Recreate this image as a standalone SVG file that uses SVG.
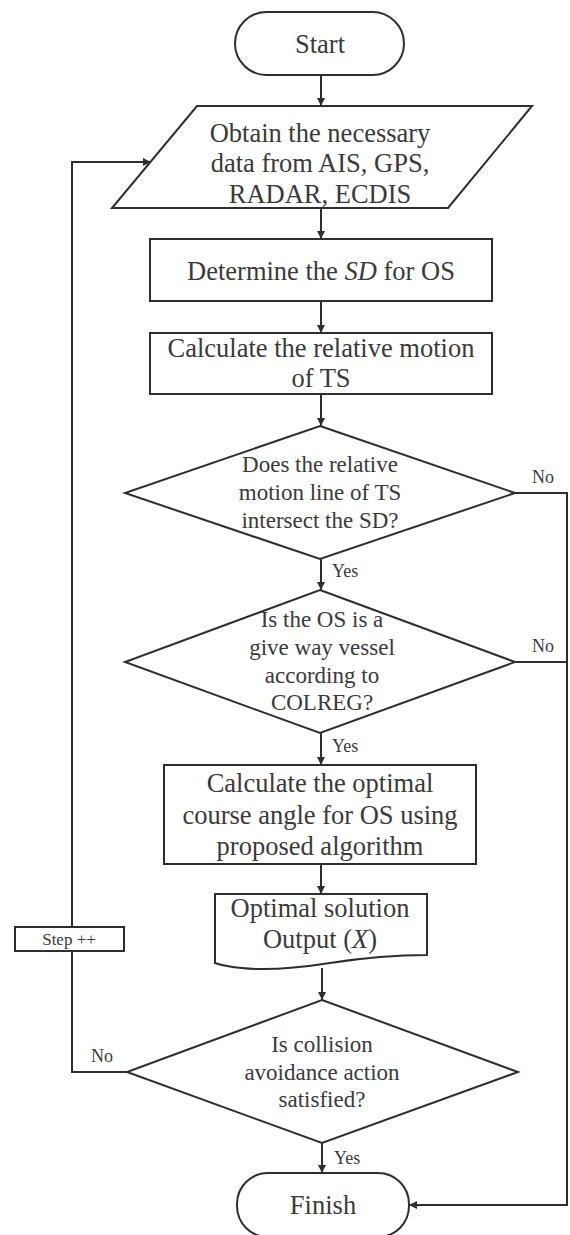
<svg xmlns="http://www.w3.org/2000/svg" width="570" height="1235" viewBox="0 0 570 1235">
<defs>
<marker id="arr" viewBox="0 0 10 10" refX="10" refY="5" markerWidth="8" markerHeight="8" markerUnits="userSpaceOnUse" orient="auto">
<path d="M0,0 L10,5 L0,10 Z" fill="#2e2e2e"/>
</marker>
<style>
.s{fill:#fff;stroke:#2e2e2e;stroke-width:2}
.c{fill:none;stroke:#2e2e2e;stroke-width:2}
.t{font-family:"Liberation Serif","Times New Roman",serif;fill:#3a3a3a;text-anchor:middle}
.big{font-size:26.5px}
.mid{font-size:23px}
.lab{font-size:18px;text-anchor:start}
.stp{font-size:17px}
</style>
</defs>
<rect width="570" height="1235" fill="#fff"/>
<g id="connectors">
<line class="c" x1="321" y1="75" x2="321" y2="106" marker-end="url(#arr)"/>
<line class="c" x1="321" y1="208" x2="321" y2="239" marker-end="url(#arr)"/>
<line class="c" x1="321" y1="301" x2="321" y2="333" marker-end="url(#arr)"/>
<line class="c" x1="321" y1="394" x2="321" y2="426" marker-end="url(#arr)"/>
<line class="c" x1="321" y1="559" x2="321" y2="590" marker-end="url(#arr)"/>
<line class="c" x1="321" y1="733" x2="321" y2="765" marker-end="url(#arr)"/>
<line class="c" x1="321" y1="864" x2="321" y2="894" marker-end="url(#arr)"/>
<line class="c" x1="322" y1="968" x2="322" y2="1000" marker-end="url(#arr)"/>
<line class="c" x1="322" y1="1143" x2="322" y2="1173" marker-end="url(#arr)"/>
<polyline class="c" points="515,493 567,493 567,1205 409,1205" marker-end="url(#arr)"/>
<line class="c" x1="515" y1="662" x2="567" y2="662"/>
<polyline class="c" points="127,1072 72,1072 72,162 151,162" marker-end="url(#arr)"/>
<text class="t lab" x="332" y="577">Yes</text>
<text class="t lab" x="332" y="752">Yes</text>
<text class="t lab" x="334" y="1164">Yes</text>
<text class="t lab" x="532" y="483">No</text>
<text class="t lab" x="532" y="652">No</text>
<text class="t lab" x="91" y="1062">No</text>
</g>
<g id="step">
<rect class="s" x="15" y="927" width="109" height="24" stroke-width="1.5"/>
<text class="t stp" x="69" y="945">Step ++</text>
</g>
<g id="start">
<rect class="s" x="235" y="12" width="169" height="63" rx="31.5"/>
<text class="t big" x="320" y="53">Start</text>
</g>
<g id="obtain">
<polygon class="s" points="197,106 532,106 448,208 112,208"/>
<text class="t big" x="320" y="142">Obtain the necessary</text>
<text class="t big" x="320" y="172">data from AIS, GPS,</text>
<text class="t big" x="320" y="203">RADAR, ECDIS</text>
</g>
<g id="determine">
<rect class="s" x="150" y="239" width="342" height="62"/>
<text class="t big" x="321" y="280">Determine the <tspan font-style="italic">SD</tspan> for OS</text>
</g>
<g id="relative">
<rect class="s" x="150" y="333" width="342" height="61"/>
<text class="t big" x="321" y="357">Calculate the relative motion</text>
<text class="t big" x="321" y="387">of TS</text>
</g>
<g id="intersect">
<polygon class="s" points="320,426 515,493 320,559 125,493"/>
<text class="t mid" x="320" y="472">Does the relative</text>
<text class="t mid" x="320" y="500">motion line of TS</text>
<text class="t mid" x="320" y="528">intersect the SD?</text>
</g>
<g id="giveway">
<polygon class="s" points="320,590 515,662 320,733 125,662"/>
<text class="t mid" x="322" y="627">Is the OS is a</text>
<text class="t mid" x="322" y="655">give way vessel</text>
<text class="t mid" x="322" y="683">according to</text>
<text class="t mid" x="322" y="710">COLREG?</text>
</g>
<g id="optimal">
<rect class="s" x="164" y="765" width="312" height="99"/>
<text class="t big" x="320" y="792">Calculate the optimal</text>
<text class="t big" x="320" y="824">course angle for OS using</text>
<text class="t big" x="320" y="855">proposed algorithm</text>
</g>
<g id="output">
<path class="s" d="M215,894 H427 V955 C 395,955 362,958 330,963 C 298,968 268,971 242,968 C 230,967 221,965 215,963 Z"/>
<text class="t big" x="320" y="917">Optimal solution</text>
<text class="t big" x="320" y="948">Output (<tspan font-style="italic">X</tspan>)</text>
</g>
<g id="satisfied">
<polygon class="s" points="322,1000 518,1072 322,1143 127,1072"/>
<text class="t mid" x="322" y="1052">Is collision</text>
<text class="t mid" x="322" y="1080">avoidance action</text>
<text class="t mid" x="322" y="1107">satisfied?</text>
</g>
<g id="finish">
<rect class="s" x="237" y="1173" width="172" height="64" rx="31"/>
<text class="t big" x="323" y="1214">Finish</text>
</g>
</svg>
